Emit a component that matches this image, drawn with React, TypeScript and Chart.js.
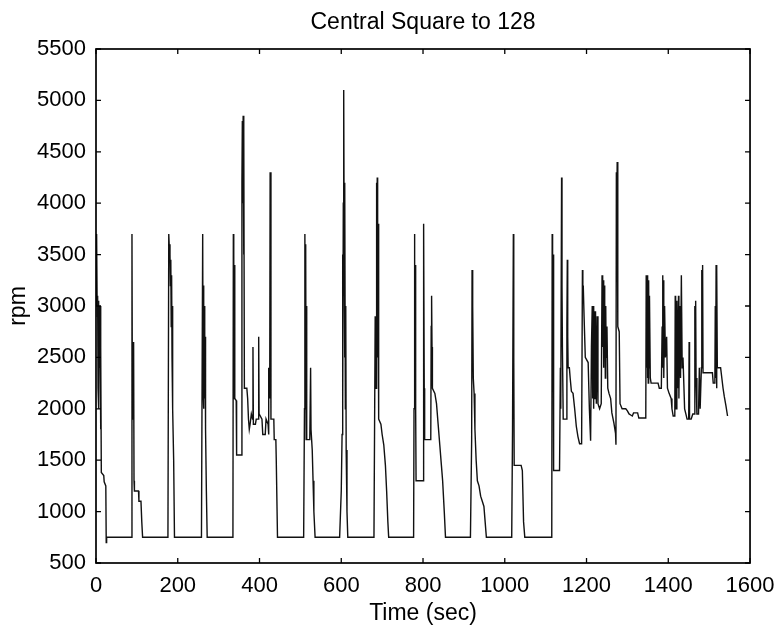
import React, { useEffect, useRef } from 'react';
import { Chart, registerables } from 'chart.js';

Chart.register(...registerables);

// Time axis (seconds) and engine speed (rpm)
const timeSec = [
  0, 1, 2, 3, 4, 5, 6, 7, 8, 9, 10, 11, 12, 13, 19, 20, 24, 25, 26,
  87, 88, 89, 90, 91, 92, 93, 94, 104, 105, 110, 112, 114,
  176, 178, 179, 181, 182, 183, 184, 185, 186, 187, 188, 190, 192,
  258, 261, 262, 263, 264, 265, 266, 267, 268, 270, 272,
  335, 336, 337, 338, 339, 340, 343, 344, 356, 357, 358, 359, 360, 361, 362, 363, 369, 371, 373, 375, 377, 380, 383, 384, 385, 390, 392, 397, 398, 399, 406, 408, 414, 416, 421, 422, 423, 425, 426, 428, 435, 436, 440, 441, 444,
  508, 510, 511, 512, 513, 514, 515, 516, 523, 525, 526, 529, 531, 533, 536,
  596, 600, 602, 603, 604, 605, 606, 607, 608, 609, 610, 611, 612, 614, 616,
  680, 683, 685, 686, 687, 688, 689, 690, 691, 692, 697, 700, 704, 708, 711, 714, 716,
  777, 778, 779, 780, 781, 782, 783, 800, 801, 802, 803, 804, 819, 820, 821, 822, 823, 829, 833, 837, 841, 845, 848, 852, 855,
  916, 919, 920, 921, 922, 923, 925, 927, 930, 933, 937, 941, 945, 949, 952, 955,
  1017, 1019, 1021, 1022, 1023, 1040, 1043, 1046, 1049,
  1115, 1116, 1117, 1118, 1119, 1120, 1134, 1136, 1137, 1139, 1140, 1141, 1143, 1150, 1152, 1153, 1154, 1155, 1158, 1160, 1163, 1167, 1171, 1175, 1179, 1183, 1188,
  1190, 1191, 1192, 1194, 1197, 1204, 1207, 1210, 1212, 1214, 1215, 1216, 1217, 1218, 1219, 1220, 1221, 1222, 1224, 1226, 1228, 1232, 1236,
  1238, 1239, 1240, 1241, 1242, 1243, 1244, 1245, 1246, 1247, 1248, 1250, 1252, 1255, 1259, 1262, 1267, 1271, 1272, 1273, 1274, 1275, 1276, 1277, 1280, 1282,
  1287, 1296, 1300, 1304, 1308, 1312, 1315, 1325, 1328, 1345, 1346, 1347, 1348, 1349, 1350, 1351, 1352, 1353, 1354, 1356, 1358, 1375, 1378, 1383,
  1385, 1386, 1387, 1388, 1389, 1391, 1393, 1396, 1398, 1402, 1407, 1409, 1412, 1416, 1417, 1418, 1420, 1421, 1423, 1425, 1426, 1428, 1430, 1432, 1434, 1436,
  1440, 1443, 1446, 1450, 1451, 1452, 1456, 1460, 1464, 1465, 1466, 1467, 1468, 1470, 1474, 1476, 1478, 1481, 1482, 1483, 1484, 1485, 1496, 1508,
  1510, 1514, 1515, 1516, 1517, 1518, 1519, 1520, 1528, 1531, 1534, 1537, 1541, 1545,
];

const rpmValues = [
  3700, 3000, 3700, 2900, 3100, 2200, 3050, 2000, 3000, 2400, 3000, 1800, 2600, 1380, 1350, 1290, 1250, 700, 750,
  750, 3700, 2000, 2600, 1900, 2650, 1300, 1200, 1200, 1100, 1100, 900, 750,
  750, 3700, 3600, 3500, 3200, 3450, 2800, 3300, 2500, 3000, 2000, 1500, 750,
  750, 3700, 2200, 3200, 2000, 3000, 2100, 2700, 1800, 1200, 750,
  750, 3700, 3500, 2100, 3400, 2100, 2080, 1550, 1550, 4200, 4800, 4000, 4850, 3500, 4700, 2200, 2200, 2100, 1900, 1800, 1850, 1950, 1900, 2600, 1850, 1850, 1900, 1900, 2700, 1950, 1900, 1750, 1750, 1900, 1850, 1750, 2400, 2100, 4300, 1900, 1900, 1700, 1700, 1500, 750,
  750, 2000, 3700, 2500, 3600, 1700, 3000, 1700, 1700, 2400, 1800, 1600, 1300, 1000, 750,
  750, 1200, 1750, 3500, 2000, 4000, 5100, 3800, 2500, 4200, 2000, 3000, 1600, 1000, 750,
  750, 2900, 2200, 4200, 2900, 4250, 2500, 3800, 2000, 1900, 1850, 1750, 1650, 1450, 1200, 900, 750,
  750, 2000, 3700, 2900, 3400, 2000, 1300, 1300, 2500, 3800, 2200, 1700, 1700, 2800, 3100, 2600, 2200, 2150, 2050, 1850, 1650, 1450, 1300, 1000, 750,
  750, 1700, 3350, 2800, 3000, 2300, 2150, 1800, 1500, 1300, 1250, 1150, 1100, 1050, 900, 750,
  750, 1800, 3700, 2500, 1450, 1450, 1400, 900, 750,
  750, 3700, 3200, 3500, 2400, 1400, 1400, 2400, 2000, 4250, 3200, 2600, 1900, 1900, 2800, 3450, 2700, 2400, 2400, 2300, 2170, 2150, 2000, 1830, 1730, 1660, 1660,
  3350, 3100, 3200, 2900, 2500, 2450, 2000, 1690, 2600, 3000, 2100, 3000, 2000, 3000, 2200, 2950, 2100, 2950, 2050, 2900, 2050, 2000, 2050,
  3300, 3200, 2600, 3250, 2400, 3200, 2600, 3000, 2300, 3000, 2500, 2800, 2200, 2150, 2100, 1960, 1860, 1760, 1650, 4300, 3800, 4400, 3500, 2800, 2750, 2050,
  2000, 2000, 1980, 1950, 1940, 1930, 1960, 1960, 1910, 1910, 3300, 2400, 3300, 2300, 3250, 2250, 3250, 2400, 3100, 2300, 2250, 2250, 2200, 2200,
  2800, 3300, 2400, 3250, 2300, 3000, 2500, 2700, 2200, 2150, 2100, 2000, 1930, 1930, 3100, 2000, 2000, 3050, 2200, 3100, 2100, 3000, 2300, 3300, 2400, 2500,
  2000, 1950, 1900, 1900, 2650, 1900, 1900, 1950, 1950, 3000, 2700, 3050, 2300, 1950, 1950, 2400, 2000, 2400, 3350, 2500, 3400, 2350, 2350, 2350,
  2250, 2250, 3000, 2300, 3400, 2200, 3350, 2400, 2400, 2300, 2200, 2120, 2030, 1930,
];

const xTickValues = [0, 200, 400, 600, 800, 1000, 1200, 1400, 1600];
const yTickValues = [500, 1000, 1500, 2000, 2500, 3000, 3500, 4000, 4500, 5000, 5500];

const chartTitle = 'Central Square to 128';
const xTitle = 'Time (sec)';
const yTitle = 'rpm';

const FONT = "'Liberation Sans', Arial, Helvetica, sans-serif";

const boxPlugin = {
  id: 'matlabBox',
  afterDraw(chart: any) {
    const { ctx, chartArea: a, scales } = chart;
    ctx.save();
    ctx.strokeStyle = '#000';
    ctx.lineWidth = 1.7;
    ctx.strokeRect(a.left, a.top, a.right - a.left, a.bottom - a.top);
    ctx.lineWidth = 1.3;
    ctx.beginPath();
    const len = 5;
    for (const v of xTickValues) {
      const px = scales.x.getPixelForValue(v);
      ctx.moveTo(px, a.bottom);
      ctx.lineTo(px, a.bottom - len);
      ctx.moveTo(px, a.top);
      ctx.lineTo(px, a.top + len);
    }
    for (const v of yTickValues) {
      const py = scales.y.getPixelForValue(v);
      ctx.moveTo(a.left, py);
      ctx.lineTo(a.left + len, py);
      ctx.moveTo(a.right, py);
      ctx.lineTo(a.right - len, py);
    }
    ctx.stroke();
    ctx.restore();
  },
};

export default function App() {
  const canvasRef = useRef<HTMLCanvasElement | null>(null);

  useEffect(() => {
    const canvas = canvasRef.current;
    if (!canvas) return;
    const points = timeSec.map((t, i) => ({ x: t, y: rpmValues[i] }));
    const chart = new Chart(canvas, {
      type: 'line',
      data: {
        datasets: [
          {
            data: points,
            borderColor: '#111',
            borderWidth: 1.4,
            pointRadius: 0,
            tension: 0,
            fill: false,
          },
        ],
      },
      options: {
        animation: false,
        responsive: false,
        devicePixelRatio: 1,
        layout: { padding: { left: 0, right: 31, top: 0, bottom: 0 } },
        plugins: {
          legend: { display: false },
          tooltip: { enabled: false },
          title: {
            display: true,
            fullSize: false,
            text: chartTitle,
            color: '#000',
            font: { family: FONT, size: 23, weight: 'normal' },
            padding: { top: 8.7, bottom: 12.7 },
          },
        },
        scales: {
          x: {
            type: 'linear',
            min: 0,
            max: 1600,
            afterFit: (s: any) => { s.height = 64; },
            grid: { display: false, drawTicks: false },
            border: { display: false },
            ticks: {
              stepSize: 200,
              autoSkip: false,
              maxRotation: 0,
              padding: 9.5,
              color: '#000',
              font: { family: FONT, size: 22 },
              callback: (v: any) => String(v),
            },
            title: {
              display: true,
              text: xTitle,
              color: '#000',
              font: { family: FONT, size: 23 },
              padding: { top: 0, bottom: 0 },
            },
          },
          y: {
            type: 'linear',
            min: 500,
            max: 5500,
            afterFit: (s: any) => { s.width = 96; },
            grid: { display: false, drawTicks: false },
            border: { display: false },
            ticks: {
              stepSize: 500,
              autoSkip: false,
              padding: 10,
              color: '#000',
              font: { family: FONT, size: 22 },
              callback: (v: any) => String(v),
            },
            title: {
              display: true,
              text: yTitle,
              color: '#000',
              font: { family: FONT, size: 23 },
              padding: { top: 5, bottom: 0 },
            },
          },
        },
      },
      plugins: [boxPlugin],
    });
    return () => chart.destroy();
  }, []);

  return (
    <div style={{ position: 'absolute', left: 0, top: 0, width: 784, height: 627, background: '#fff' }}>
      <canvas ref={canvasRef} width={784} height={627} />
    </div>
  );
}
